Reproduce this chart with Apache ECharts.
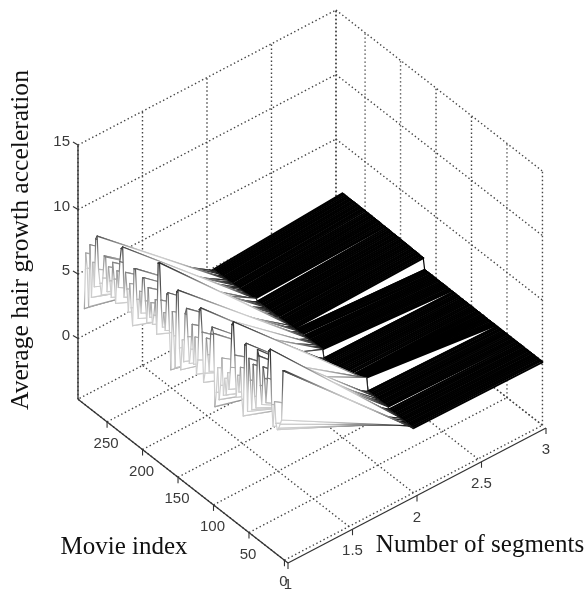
<!DOCTYPE html>
<html>
<head>
<meta charset="utf-8">
<style>html,body{margin:0;padding:0;background:#fff}#c{width:587px;height:592px}</style>
<script src="https://cdn.jsdelivr.net/npm/echarts@6/dist/echarts.min.js"></script>
</head>
<body>
<div id="c"></div>
<script>
const segments = [1, 2, 3];
const movieIndex = [
0,2,4,6,8,10,12,14,16,18,
20,22,24,26,28,30,32,34,36,38,
40,42,44,46,48,50,52,54,56,58,
60,62,64,66,68,70,72,74,76,78,
80,82,84,86,88,90,92,94,96,98,
100,102,104,106,108,110,112,114,116,118,
120,122,124,126,128,130,132,134,136,138,
140,142,144,146,148,150,152,154,156,158,
160,162,164,166,168,170,172,174,176,178,
180,182,184,186,188,190,192,194,196,198,
200,202,204,206,208,210,212,214,216,218,
220,222,224,226,228,230,232,234,236,238,
240,242,244,246,248,250,252,254,256,258,
260,262,264,266,268,270,272,274,276,278,
280,282];
const accelAt1 = [
10.0,9.9,6.0,5.6,5.2,5.0,5.4,7.0,5.0,6.6,
10.8,10.6,8.4,6.4,8.2,9.0,6.0,7.4,9.6,10.0,
5.4,6.2,8.6,5.0,7.2,8.8,4.6,9.8,9.6,4.0,
5.2,7.6,5.6,6.8,5.0,8.2,10.7,10.4,7.0,5.2,
6.4,4.6,5.8,4.4,7.2,5.0,3.8,6.2,4.2,3.0,
8.6,9.0,8.4,5.4,6.6,7.8,5.0,4.2,8.0,9.8,
9.6,5.6,4.4,7.2,5.0,8.0,6.0,4.8,6.8,8.9,
8.4,4.6,6.2,3.8,5.4,9.8,9.6,3.6,6.0,7.8,
3.2,6.0,9.0,8.8,5.9,7.2,6.0,8.0,10.8,10.7,
5.1,7.7,6.4,5.6,7.2,6.0,8.2,5.4,7.0,8.7,
8.6,5.8,7.4,5.2,6.6,8.9,8.8,4.3,5.6,7.4,
5.1,6.8,8.0,6.0,9.8,9.6,8.5,6.4,7.6,5.0,
6.8,8.0,5.2,6.4,7.4,5.4,8.0,8.0,6.2,4.8,
5.6,6.6,9.1,8.8,5.0,6.8,4.0,8.0,3.1,6.0,
7.1,2.7];
const accelAt2 = [
.30,.30,.31,.30,.30,.30,.30,.31,.30,.30,
.30,.30,.31,.30,.30,.30,.30,.30,.42,.42,
.41,.42,.42,.41,.42,.42,.41,.42,.41,.42,
.41,.42,.41,1.40,1.30,1.22,1.14,1.05,.98,.90,
.80,.72,.64,.54,.44,.34,.24,.16,.20,.22,
.24,.24,.24,.26,.26,.26,.28,.28,.28,.28,
.30,.30,.30,.30,.92,.91,.91,.90,.90,.89,
.89,.88,.88,.87,.87,.86,.86,.85,.90,.84,
.83,.83,.82,.82,.81,.81,.80,.80,.79,.79,
.78,.78,.77,.77,.76,.80,.75,.74,.74,.73,
.73,.72,.72,.71,.71,.70,.70,.69,.69,.68,
.68,.86,.70,.69,.68,.67,.66,.65,.64,.63,
.62,.61,.60,.62,.59,.58,.57,.56,.58,.55,
.54,.54,.53,.53,.52,.52,.51,.51,.50,.50,
.49,.49];
const accelAt3 = [
.20,.20,.20,.21,.20,.20,.21,.20,.20,.20,
.21,.20,.20,.20,.21,.20,.20,.20,.20,.21,
.20,.20,.21,.20,.20,.21,.20,.20,.20,.21,
.20,.21,.20,.20,.21,.20,.20,.21,.20,.21,
.20,.21,.21,.20,.21,.21,.20,.21,.21,.21,
.21,.21,.20,.21,.21,.21,.22,.21,.21,.22,
.21,.21,.22,.21,.22,.22,.21,.22,.22,.22,
.22,.22,.21,.22,.22,.22,.22,.22,.23,.22,
.22,.22,.22,.22,1.05,1.05,1.06,1.06,1.07,1.07,
1.07,1.08,1.08,1.09,1.09,1.09,1.10,1.10,1.11,1.11,
1.11,1.12,1.12,1.12,1.13,1.13,1.13,1.14,1.14,1.14,
1.15,1.15,1.15,1.15,1.16,1.16,1.16,1.16,1.16,1.17,
1.17,1.17,1.17,1.17,1.17,1.18,1.18,1.18,1.18,1.18,
1.18,1.18,1.18,1.18,1.18,1.18,1.18,1.18,1.18,1.18,
1.18,1.18];
const movieTicks = [0, 50, 100, 150, 200, 250];
const segmentTicks = [1, 1.5, 2, 2.5, 3];
const segmentTickLabels = ['1', '1.5', '2', '2.5', '3'];
const accelTicks = [0, 5, 10, 15];
const movieRange = [-5, 291];
const segmentRange = [1, 3];
const accelRange = [-4.7, 15];
const xTitle = 'Movie index';
const yTitle = 'Number of segments';
const zTitle = 'Average hair growth acceleration';
const grayRamp = [[0,8],[0.8,25],[1.4,90],[2.4,145],[4,205],[6,205],[8,130],[9.5,65],[11,45]];

// oblique view of the 3-D box, onto the page-pixel value axes
function view(m, s, z) {
  return [
    288 + 129 * (s - 1) - (m + 5) * 0.7095,
    563 - 67.5 * (s - 1) - (m + 5) * 0.5535 - (z + 4.7) * 12.9
  ];
}
function gray(z) {
  let v = grayRamp[grayRamp.length - 1][1];
  if (z <= grayRamp[0][0]) v = grayRamp[0][1];
  for (let k = 0; k < grayRamp.length - 1; k++) {
    const a = grayRamp[k], b = grayRamp[k + 1];
    if (z >= a[0] && z <= b[0]) v = a[1] + (b[1] - a[1]) * (z - a[0]) / (b[0] - a[0]);
  }
  v = Math.round(v);
  return 'rgb(' + v + ',' + v + ',' + v + ')';
}
const accel = [accelAt1, accelAt2, accelAt3];
const n = Math.min(movieIndex.length, accelAt1.length, accelAt2.length, accelAt3.length);

// frame segments
const dotted = [], solid = [];
function seg(list, a, b) { const p = view(a[0], a[1], a[2]), q = view(b[0], b[1], b[2]); list.push([p[0], p[1], q[0], q[1]]); }
const [m0, m1] = movieRange, [s0, s1] = segmentRange, [z0, z1] = accelRange;
accelTicks.forEach(z => {
  seg(dotted, [m1, s0, z], [m1, s1, z]);
  seg(dotted, [m1, s1, z], [m0 + 5, s1, z]);
});
segmentTicks.forEach(s => {
  seg(dotted, [m0 + 5, s, z0], [m1, s, z0]);
  seg(dotted, [m1, s, z0], [m1, s, z1]);
});
movieTicks.forEach(m => {
  seg(dotted, [m, s0, z0], [m, s1, z0]);
  seg(dotted, [m, s1, z0], [m, s1, z1]);
});
seg(dotted, [m1, s1, z0], [m1, s0, z0]);
seg(dotted, [m1, s1, z0], [m0 + 5, s1, z0]);
seg(dotted, [m1, s1, z0], [m1, s1, z1]);
seg(solid, [m1, s0, z0], [m1, s0, z1]);
seg(solid, [m1, s0, z0], [m0, s0, z0]);
seg(solid, [m0, s0, z0], [m0, s1, z0]);
const ticks = [];
accelTicks.forEach(z => { const p = view(m1, s0, z); ticks.push([p[0], p[1], p[0] - 5, p[1] - 3]); });
movieTicks.forEach(m => { const p = view(m, s0, z0); ticks.push([p[0], p[1], p[0], p[1] + 6]); });
segmentTicks.forEach(s => { const p = view(m0, s, z0); ticks.push([p[0], p[1], p[0], p[1] + 6]); });

// mesh faces, far to near
const faces = [];
for (let i = n - 2; i >= 0; i--) {
  for (let j = segments.length - 2; j >= 0; j--) faces.push([i, j]);
}

function lineEl(a, b, stroke, width) {
  return { type: 'line', shape: { x1: a[0], y1: a[1], x2: b[0], y2: b[1] }, style: { stroke: stroke, lineWidth: width, lineCap: 'round', fill: null } };
}
function ramp(a, b, za, zb) {
  const stops = [];
  for (let t = 0; t <= 6; t++) stops.push({ offset: t / 6, color: gray(za + (zb - za) * t / 6) });
  return new echarts.graphic.LinearGradient(a[0], a[1], b[0] + 0.01, b[1] + 0.01, stops, true);
}
function faceItem(params, api) {
  const f = faces[params.dataIndex], i = f[0], j = f[1];
  const pt = (ii, jj) => api.coord(view(movieIndex[ii], segments[jj], accel[jj][ii]));
  const a = pt(i, j), b = pt(i + 1, j), c = pt(i + 1, j + 1), d = pt(i, j + 1);
  const za = accel[j][i], zb = accel[j][i + 1], zc = accel[j + 1][i + 1], zd = accel[j + 1][i];
  const children = [{ type: 'polygon', shape: { points: [a, b, c, d] }, style: { fill: '#fff', stroke: null } }];
  if (j === 1) {
    children.push(lineEl(a, d, '#000', 2), lineEl(b, c, '#000', 2), lineEl(d, c, '#000', 1.2), lineEl(a, b, '#000', 1.2));
  } else {
    children.push(lineEl(b, c, ramp(b, c, zb, zc), 1.2), lineEl(a, d, ramp(a, d, za, zd), 1.2),
      lineEl(d, c, '#222', 1.1), lineEl(a, b, ramp(a, b, za, zb), 1.2));
  }
  return { type: 'group', children: children };
}
function segItem(style) {
  return function (params, api) {
    const a = api.coord([api.value(0), api.value(1)]), b = api.coord([api.value(2), api.value(3)]);
    return { type: 'line', shape: { x1: a[0], y1: a[1], x2: b[0], y2: b[1] }, style: Object.assign({ fill: null }, style) };
  };
}
const tickFont = '15px "Liberation Sans", Arial, sans-serif';
const titleFont = '25px "Liberation Serif", "Times New Roman", serif';
const titleFontZ = '25.6px "Liberation Serif", "Times New Roman", serif';
const labels = [];
accelTicks.forEach(z => { const p = view(m1, s0, z); labels.push({ t: String(z), x: p[0] - 8, y: p[1] - 3, a: 'right', f: tickFont, c: '#3a3a3a' }); });
movieTicks.forEach(m => { const p = view(m, s0, z0); labels.push({ t: String(m), x: p[0] - 1, y: p[1] + 22, a: 'center', f: tickFont, c: '#3a3a3a' }); });
segmentTicks.forEach((s, k) => { const p = view(m0, s, z0); labels.push({ t: segmentTickLabels[k], x: p[0], y: p[1] + 22, a: 'center', f: tickFont, c: '#3a3a3a' }); });
labels.push({ t: xTitle, x: 124, y: 547, a: 'center', f: titleFont, c: '#111' });
labels.push({ t: yTitle, x: 480, y: 545, a: 'center', f: titleFont, c: '#111' });
labels.push({ t: zTitle, x: 21, y: 240, a: 'center', f: titleFontZ, c: '#111', r: Math.PI / 2 });

const chart = echarts.init(document.getElementById('c'), null, { renderer: 'canvas' });
chart.setOption({
  animation: false,
  backgroundColor: '#fff',
  grid: { left: 0, right: 0, top: 0, bottom: 0 },
  xAxis: { type: 'value', min: 0, max: 587, show: false },
  yAxis: { type: 'value', min: 0, max: 592, inverse: true, show: false },
  series: [
    { type: 'custom', silent: true, clip: false, progressive: 0, data: dotted, renderItem: segItem({ stroke: '#444', lineWidth: 1.4, lineDash: [1.4, 2.6] }), encode: { x: [0, 2], y: [1, 3] } },
    { type: 'custom', silent: true, clip: false, progressive: 0, data: faces, renderItem: faceItem },
    { type: 'custom', silent: true, clip: false, progressive: 0, data: solid, renderItem: segItem({ stroke: '#333', lineWidth: 1.3 }), encode: { x: [0, 2], y: [1, 3] } },
    { type: 'custom', silent: true, clip: false, progressive: 0, data: ticks, renderItem: segItem({ stroke: '#333', lineWidth: 1.1 }), encode: { x: [0, 2], y: [1, 3] } },
    { type: 'custom', silent: true, clip: false, progressive: 0, data: labels.map((l, k) => [l.x, l.y, k]),
      renderItem: function (params, api) {
        const l = labels[params.dataIndex], p = api.coord([l.x, l.y]);
        return { type: 'text', x: p[0], y: p[1], rotation: l.r || 0,
          style: { text: l.t, x: 0, y: 0, align: l.a, verticalAlign: 'middle', font: l.f, fill: l.c } };
      }, encode: { x: 0, y: 1 } }
  ]
});
</script>
</body>
</html>
